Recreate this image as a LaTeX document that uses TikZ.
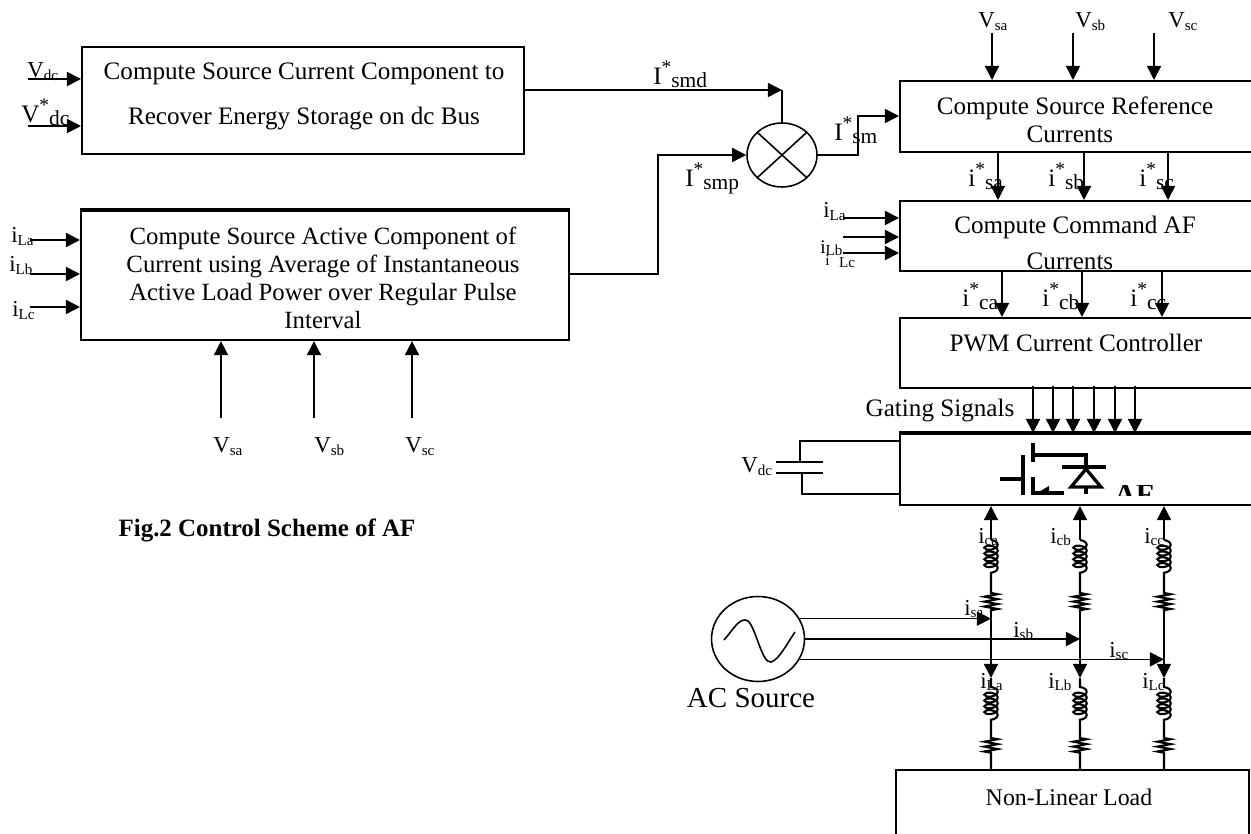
\documentclass[tikz,border=0pt]{standalone}
\usepackage{fontspec}
\setmainfont{Liberation Serif}
\usetikzlibrary{
  arrows.meta,
  calc,
  shapes.geometric,
  decorations.pathmorphing
}
\newcommand{\mainfont}{\fontsize{14.3}{15.9}\selectfont}
\newcommand{\subfont}{\fontsize{8.6}{9}\selectfont}
% Labels: plain subscript and starred subscript
\newcommand{\sublab}[2]{#1\raisebox{-0.25ex}{\subfont #2}}
\newcommand{\starlab}[2]{#1\raisebox{1.0ex}{\fontsize{11}{11}\selectfont *}{\fontsize{12.2}{12}\selectfont\raisebox{-0.3ex}{#2}}}
\tikzset{
  % Boxes
  blockbox/.style  = {draw, line width=1.2pt, anchor=north west, inner sep=0pt},
  boxtext/.style   = {font=\mainfont, align=center, inner sep=0pt},
  % Labels
  lab/.style       = {font=\fontsize{13}{14}\selectfont, anchor=base west, inner sep=0pt},
  starred/.style   = {font=\mainfont, anchor=base west, inner sep=0pt},
  % Connectors
  wire/.style      = {line width=0.9pt},
  sigarrow/.style  = {wire, -{Triangle[length=8pt, width=8pt]}},
  % Coil and resistor of a phase
  coilseg/.style   = {decoration={coil, amplitude=3.8pt, segment length=3.3pt, aspect=0.5}},
  resseg/.style    = {decoration={zigzag, amplitude=3.8pt, segment length=2.8pt}},
  phasewire/.style = {line width=1.2pt},
  % Switch symbol
  barline/.style   = {line width=2.4pt},
  symline/.style   = {line width=1.9pt},
}
\begin{document}
\begin{tikzpicture}[x=0.02cm, y=-0.02cm]
  \useasboundingbox (0,0) rectangle (1251,834);
  \clip (0,0) rectangle (1251,834);

  % Left blocks
  \node[blockbox, minimum width=8.84cm, minimum height=2.14cm] (dcbox) at (81,46) {};
  \node[blockbox, minimum width=9.76cm, minimum height=2.58cm] (actbox) at (80,210) {};
  \draw[line width=1.8pt] (actbox.north west) -- (actbox.north east);
  \node[boxtext] (dctext) at (304,96.5) {Compute Source Current Component to\\[9.7pt]Recover Energy Storage on dc Bus};
  \node[boxtext, font=\fontsize{14.1}{15.9}\selectfont] (acttext) at (323,278) {Compute Source Active Component of\\Current using Average of Instantaneous\\Active Load Power over Regular Pulse\\Interval};

  % Right blocks
  \node[blockbox, minimum width=7.22cm, minimum height=1.42cm] (refbox) at (899,80) {};
  \node[blockbox, minimum width=7.22cm, minimum height=1.40cm] (cmdbox) at (899,200) {};
  \node[blockbox, minimum width=7.22cm, minimum height=1.40cm] (pwmbox) at (899,317) {};
  \node[blockbox, minimum width=7.22cm, minimum height=1.42cm] (afbox) at (899,433) {};
  \draw[line width=1.8pt] (afbox.north west) -- (afbox.north east);
  \node[blockbox, minimum width=7.06cm, minimum height=1.52cm] (loadbox) at (895,769) {};
  \node[boxtext] (reftext) at (1075,120) {Compute Source Reference\\Currents\kern5.7pt};
  \node[boxtext] (cmdtext) at (1075,243) {Compute Command AF\\[4.6pt]Currents\kern5.7pt};
  \node[boxtext] (pwmtext) at (1076,343) {PWM Current Controller};
  \node[boxtext, font=\fontsize{13.6}{15}\selectfont] (loadtext) at (1069,797) {Non-Linear Load};
  \node[boxtext] (gatetext) at (940,410) {Gating Signals};
  \node[boxtext, font=\bfseries\fontsize{14.2}{15}\selectfont] (figtext) at (267,530) {Fig.2 Control Scheme of AF};

  % Multiplier
  \node[draw, ellipse, wire, minimum width=1.4cm, minimum height=1.28cm, inner sep=0pt] (mulnode) at (782,155) {};
  \draw[wire] (mulnode.north west) -- (mulnode.south east);
  \draw[wire] (mulnode.north east) -- (mulnode.south west);

  % Inputs of the left blocks
  \coordinate (vdcin) at (28,79);
  \coordinate (vdsin) at (28,126);
  \draw[sigarrow] (vdcin) -- (vdcin -| dcbox.west);
  \draw[sigarrow] (vdsin) -- (vdsin -| dcbox.west);
  \node[lab] (vdclab) at (27,78) {\sublab{V}{dc}};
  \node[starred] (vdslab) at (21,123) {\starlab{V}{dc}};
  \foreach \y/\n in {240/a,274/b,307/c}{
    \coordinate (il\n) at (30,\y);
    \draw[sigarrow] (il\n) -- (il\n -| actbox.west);
  }
  \node[lab] (ilalab) at (11,243) {\sublab{i}{La}};
  \node[lab] (ilblab) at (9,272) {\sublab{i}{Lb}};
  \node[lab] (ilclab) at (12,317) {\sublab{i}{Lc}};
  \foreach \x/\n in {221/a,314/b,412/c}{
    \coordinate (vb\n) at (\x,418);
    \draw[sigarrow] (vb\n) -- (vb\n |- actbox.south);
  }
  \node[lab] (vbalab) at (213,453) {\sublab{V}{sa}};
  \node[lab] (vbblab) at (314,453) {\sublab{V}{sb}};
  \node[lab] (vbclab) at (405,453) {\sublab{V}{sc}};

  % Outputs to the multiplier
  \coordinate (smdout) at (523,90);
  \coordinate (smpout) at (568,274);
  \draw[sigarrow] (smdout) -- (smdout -| mulnode.north);
  \draw[wire] (smdout -| mulnode.north) -- (mulnode.north);
  \draw[sigarrow] (smpout) -- (658,274) -- (658,155) -- (mulnode.west);
  \draw[sigarrow] (mulnode.east) -- (858,155) -- (858,116) -- (899,116);
  \node[starred] (smdlab) at (653,85) {\starlab{I}{smd}};
  \node[starred] (smplab) at (685,187) {\starlab{I}{smp}};
  \node[starred] (smlab) at (834,141) {\starlab{I}{sm}};

  % Right column signals
  \foreach \x/\n in {992/a,1073/b,1154/c}{
    \coordinate (vt\n) at (\x,33);
    \draw[sigarrow] (vt\n) -- (vt\n |- refbox.north);
  }
  \node[lab] (vtalab) at (978,28) {\sublab{V}{sa}};
  \node[lab] (vtblab) at (1075,28) {\sublab{V}{sb}};
  \node[lab] (vtclab) at (1168,28) {\sublab{V}{sc}};
  \foreach \x/\n in {998/a,1084/b,1168/c}{
    \coordinate (rf\n) at (\x,151);
    \draw[sigarrow] (rf\n) -- (rf\n |- cmdbox.north);
  }
  \node[starred] (rfalab) at (968,187) {\starlab{i}{sa}};
  \node[starred] (rfblab) at (1048,187) {\starlab{i}{sb}};
  \node[starred] (rfclab) at (1139,187) {\starlab{i}{sc}};
  \foreach \x/\n in {1002/a,1082/b,1162/c}{
    \coordinate (cm\n) at (\x,270);
    \draw[sigarrow] (cm\n) -- (cm\n |- pwmbox.north);
  }
  \node[starred] (cmalab) at (962,307) {\starlab{i}{ca}};
  \node[starred] (cmblab) at (1042,307) {\starlab{i}{cb}};
  \node[starred] (cmclab) at (1130,307) {\starlab{i}{cc}};
  \foreach \y/\n in {218/a,237/b,253/c}{
    \coordinate (lc\n) at (843,\y);
    \draw[sigarrow] (lc\n) -- (lc\n -| cmdbox.west);
  }
  \node[lab] (lcalab) at (823,218) {\sublab{i}{La}};
  \node[lab, font=\fontsize{11}{12}\selectfont] (lcblab) at (820,254) {i\raisebox{-0.2ex}{\subfont Lb}};
  \node[lab, font=\subfont] (lcclab) at (825,266) {i\hspace{5.5pt}\raisebox{-0.2ex}{Lc}};
  \foreach \x in {1033,1053,1073,1094,1115,1135}{
    \coordinate (gt\x) at (\x,386);
    \draw[sigarrow] (gt\x) -- (gt\x |- afbox.north);
  }

  % Capacitor
  \coordinate (capt) at (800,462);
  \coordinate (capb) at (802,473);
  \draw[wire] (776,462) -- (823,462);
  \draw[wire] (776,473) -- (823,473);
  \draw[wire] (capt) -- (800,441) -- (800,441 -| afbox.west);
  \draw[wire] (capb) -- (802,494) -- (901,494);
  \node[lab] (caplab) at (741,473) {\sublab{V}{dc}};

  % Switch symbol
  \draw[symline] (1000,479) -- (1023,479);
  \draw[barline] (1023,455) -- (1023,495);
  \draw[barline] (1033,443) -- (1033,462) (1033,477) -- (1033,495);
  \draw[symline] (1033,455) -- (1086,455) -- (1086,494) (1033,493) -- (1064,493);
  \draw[symline] (1062,467) -- (1106,467);
  \draw[symline, fill=white] (1071,487) -- (1101,487) -- (1086,469) -- cycle;
  \fill (1037,493) -- (1049,486) -- (1049,493) -- cycle;
  \begin{scope}
    \clip (1105,485) rectangle (1170,495);
    \node[boxtext, font=\bfseries\fontsize{17}{17}\selectfont, anchor=base west] (aftext) at (1114,504) {AF};
  \end{scope}

  % Phase branches
  \coordinate (cola) at (991,540);
  \coordinate (colb) at (1080,540);
  \coordinate (colc) at (1164,540);
  \foreach \n in {a,b,c}{
    \draw[sigarrow] (col\n) -- (col\n |- afbox.south);
    \draw[phasewire] (col\n) decorate[coilseg]{-- ++(0,37)} -- ++(0,16) decorate[resseg]{-- ++(0,19)};
    \draw[sigarrow] (col\n |- 0,612) -- (col\n |- 0,678);
    \draw[phasewire] (col\n |- 0,678) -- ++(0,9) decorate[coilseg]{-- ++(0,36)} -- ++(0,15) decorate[resseg]{-- ++(0,17)} -- (col\n |- loadbox.north);
  }
  \node[lab] (icalab) at (978,543) {\sublab{i}{ca}};
  \node[lab] (icblab) at (1050,543) {\sublab{i}{cb}};
  \node[lab] (icclab) at (1144,543) {\sublab{i}{cc}};
  \node[lab] (ldalab) at (980,688) {\sublab{i}{La}};
  \node[lab] (ldblab) at (1048,688) {\sublab{i}{Lb}};
  \node[lab] (ldclab) at (1142,688) {\sublab{i}{Lc}};

  % AC source
  \node[draw, ellipse, wire, minimum width=1.86cm, minimum height=1.7cm, inner sep=0pt] (acsrc) at (758,639) {};
  \draw[wire] (724,640) .. controls (733,630) and (740,616) .. (748,621)
    .. controls (756,628) and (762,664) .. (771,662)
    .. controls (779,660) and (788,642) .. (795,632);
  \draw[sigarrow] (acsrc.26) -- (acsrc.26 -| cola);
  \draw[sigarrow] (acsrc.east) -- (acsrc.east -| colb);
  \draw[sigarrow] (acsrc.-26) -- (acsrc.-26 -| colc);
  \node[lab] (isalab) at (964,615) {\sublab{i}{sa}};
  \node[lab] (isblab) at (1013,637) {\sublab{i}{sb}};
  \node[lab] (isclab) at (1109,657) {\sublab{i}{sc}};
  \node[boxtext, font=\fontsize{16.5}{18}\selectfont] (acname) at (751,698) {AC Source};
\end{tikzpicture}
\end{document}
